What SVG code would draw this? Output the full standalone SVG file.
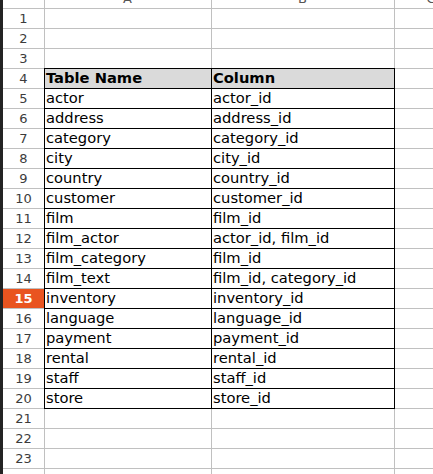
<svg xmlns="http://www.w3.org/2000/svg" width="433" height="474" viewBox="0 0 433 474">
<style>
.grid{stroke:#c0c0c0;stroke-width:1;fill:none}
.bord{stroke:#000;stroke-width:1;fill:none}
.t{font-family:"DejaVu Sans",sans-serif;font-size:14.7px;fill:#000}
.b{font-weight:bold}
.rn{font-family:"DejaVu Sans",sans-serif;font-size:13px;fill:#3c3c3c;text-anchor:middle}
.cl{font-family:"DejaVu Sans",sans-serif;font-size:13px;fill:#555;text-anchor:middle}
</style>
<rect x="0" y="0" width="433" height="474" fill="#fff"/>
<rect x="0" y="0" width="3" height="474" fill="#232323"/>
<g id="column-headers">
<text class="cl" x="127.5" y="3">A</text>
<text class="cl" x="302.5" y="3">B</text>
<text class="cl" x="431" y="3">C</text>
</g>
<g id="highlight-row15">
<rect x="3" y="288" width="41" height="20" fill="#e95420"/>
</g>
<g id="table-header-fill">
<rect x="44" y="68" width="350" height="20" fill="#dadada"/>
</g>
<g id="gridlines" class="grid">
<path d="M3 8.5H433M3 28.5H433M3 48.5H433M3 68.5H433M3 88.5H433M3 108.5H433M3 128.5H433M3 148.5H433M3 168.5H433M3 188.5H433M3 208.5H433M3 228.5H433M3 248.5H433M3 268.5H433M3 288.5H433M3 308.5H433M3 328.5H433M3 348.5H433M3 368.5H433M3 388.5H433M3 408.5H433M3 428.5H433M3 448.5H433M3 468.5H433"/>
<path d="M44.5 0V474M211.5 0V474M394.5 0V474"/>
</g>
<g id="table-borders" class="bord">
<path d="M44 68.5H395M44 88.5H395M44 108.5H395M44 128.5H395M44 148.5H395M44 168.5H395M44 188.5H395M44 208.5H395M44 228.5H395M44 248.5H395M44 268.5H395M44 288.5H395M44 308.5H395M44 328.5H395M44 348.5H395M44 368.5H395M44 388.5H395M44 408.5H395"/>
<path d="M44.5 68V409M211.5 68V409M394.5 68V409"/>
</g>
<g id="row-numbers">
<text class="rn" x="23.5" y="23">1</text>
<text class="rn" x="23.5" y="43">2</text>
<text class="rn" x="23.5" y="63">3</text>
<text class="rn" x="23.5" y="83">4</text>
<text class="rn" x="23.5" y="103">5</text>
<text class="rn" x="23.5" y="123">6</text>
<text class="rn" x="23.5" y="143">7</text>
<text class="rn" x="23.5" y="163">8</text>
<text class="rn" x="23.5" y="183">9</text>
<text class="rn" x="23.5" y="203">10</text>
<text class="rn" x="23.5" y="223">11</text>
<text class="rn" x="23.5" y="243">12</text>
<text class="rn" x="23.5" y="263">13</text>
<text class="rn" x="23.5" y="283">14</text>
<text class="rn" x="23.5" y="303" style="fill:#fff;font-weight:bold">15</text>
<text class="rn" x="23.5" y="323">16</text>
<text class="rn" x="23.5" y="343">17</text>
<text class="rn" x="23.5" y="363">18</text>
<text class="rn" x="23.5" y="383">19</text>
<text class="rn" x="23.5" y="403">20</text>
<text class="rn" x="23.5" y="423">21</text>
<text class="rn" x="23.5" y="443">22</text>
<text class="rn" x="23.5" y="463">23</text>
</g>
<g id="col-a">
<text class="t b" x="46" y="83">Table Name</text>
<text class="t" x="46" y="103">actor</text>
<text class="t" x="46" y="123">address</text>
<text class="t" x="46" y="143">category</text>
<text class="t" x="46" y="163">city</text>
<text class="t" x="46" y="183">country</text>
<text class="t" x="46" y="203">customer</text>
<text class="t" x="46" y="223">film</text>
<text class="t" x="46" y="243">film_actor</text>
<text class="t" x="46" y="263">film_category</text>
<text class="t" x="46" y="283">film_text</text>
<text class="t" x="46" y="303">inventory</text>
<text class="t" x="46" y="323">language</text>
<text class="t" x="46" y="343">payment</text>
<text class="t" x="46" y="363">rental</text>
<text class="t" x="46" y="383">staff</text>
<text class="t" x="46" y="403">store</text>
</g>
<g id="col-b">
<text class="t b" x="213" y="83">Column</text>
<text class="t" x="213" y="103">actor_id</text>
<text class="t" x="213" y="123">address_id</text>
<text class="t" x="213" y="143">category_id</text>
<text class="t" x="213" y="163">city_id</text>
<text class="t" x="213" y="183">country_id</text>
<text class="t" x="213" y="203">customer_id</text>
<text class="t" x="213" y="223">film_id</text>
<text class="t" x="213" y="243">actor_id, film_id</text>
<text class="t" x="213" y="263">film_id</text>
<text class="t" x="213" y="283">film_id, category_id</text>
<text class="t" x="213" y="303">inventory_id</text>
<text class="t" x="213" y="323">language_id</text>
<text class="t" x="213" y="343">payment_id</text>
<text class="t" x="213" y="363">rental_id</text>
<text class="t" x="213" y="383">staff_id</text>
<text class="t" x="213" y="403">store_id</text>
</g>
</svg>
